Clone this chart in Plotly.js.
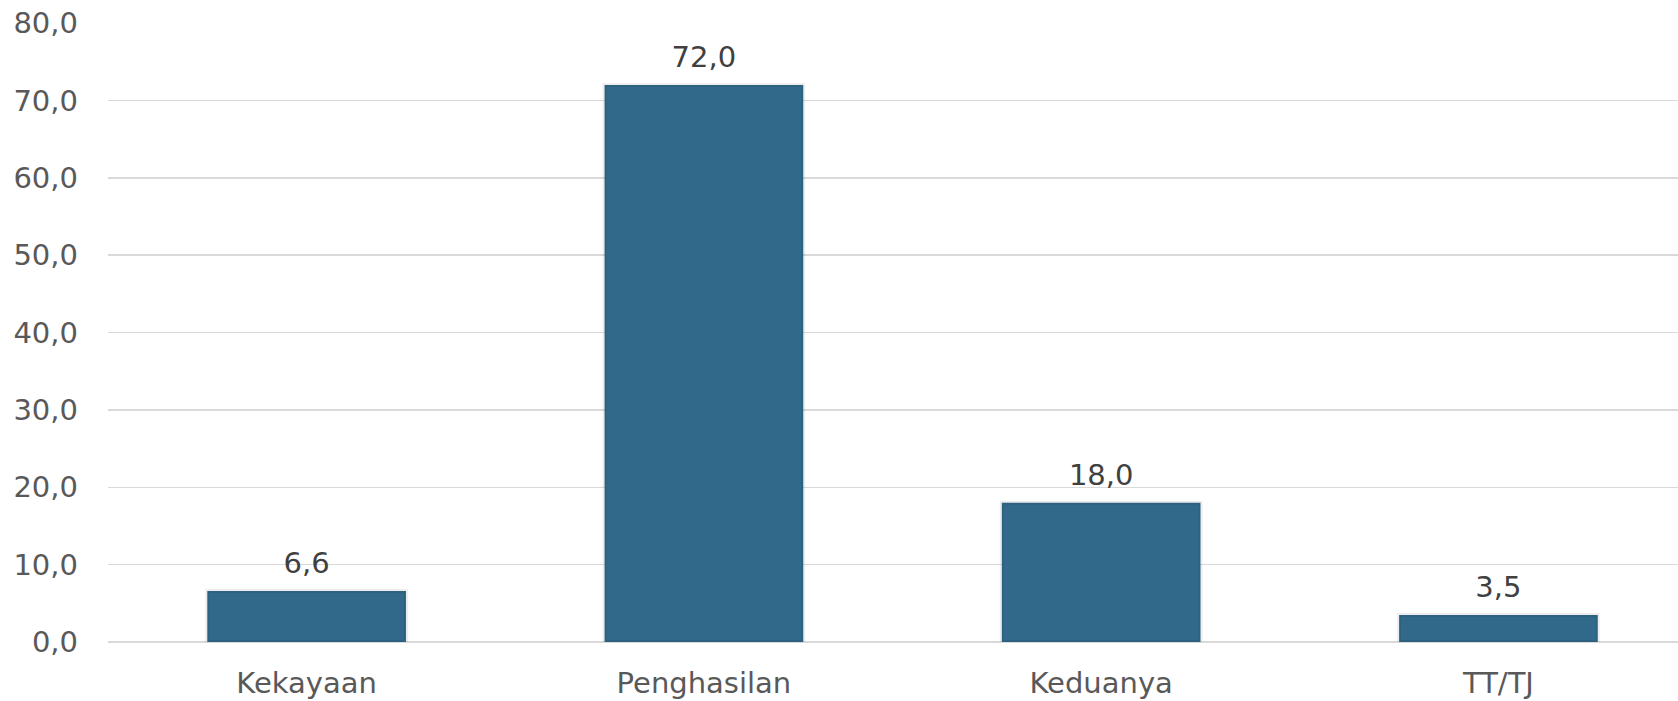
<!DOCTYPE html>
<html>
<head>
<meta charset="utf-8">
<script src="https://cdn.plot.ly/plotly-3.0.1.min.js"></script>
<style>html,body{margin:0;padding:0;background:#fff;}#chart{width:1678px;height:701px;}</style>
</head>
<body>
<div id="chart"></div>
<script>
const categories = ["Kekayaan", "Penghasilan", "Keduanya", "TT/TJ"];
const values = [6.6, 72.0, 18.0, 3.5];
const yTicks = [0, 10, 20, 30, 40, 50, 60, 70, 80];

const FONT = '"DejaVu Sans", sans-serif';

const trace = {
  type: 'bar',
  x: categories,
  y: values,
  width: 0.5,
  marker: {color: '#31698A', line: {color: 'rgba(0,0,0,0.07)', width: 4}},
  text: values.map(v => v.toFixed(1).replace('.', ',')),
  textposition: 'outside',
  cliponaxis: false,
  textfont: {family: FONT, size: 29, color: '#404040'},
  hoverinfo: 'none'
};

const layout = {
  width: 1678, height: 701,
  margin: {l: 108, r: 0, t: 23, b: 59},
  paper_bgcolor: '#ffffff', plot_bgcolor: '#ffffff',
  separators: ', ',
  showlegend: false,
  font: {family: FONT, size: 29, color: '#595959'},
  xaxis: {
    type: 'category',
    range: [-0.5, 3.452],
    showgrid: false, zeroline: false, showline: false,
    ticks: '', ticklabelstandoff: 21,
    tickfont: {family: FONT, size: 29, color: '#595959'}
  },
  yaxis: {
    range: [0, 80],
    tickvals: yTicks,
    ticktext: yTicks.map(v => v.toFixed(1).replace('.', ',')),
    showgrid: true, gridcolor: '#d9d9d9', gridwidth: 1.5,
    zeroline: true, zerolinecolor: '#d9d9d9', zerolinewidth: 1.5,
    showline: false, ticks: '', ticklabelstandoff: 29,
    tickfont: {family: FONT, size: 29, color: '#595959'}
  },
  bargap: 0.5
};

Plotly.newPlot('chart', [trace], layout, {displayModeBar: false, staticPlot: true}).then(function () {
  // push data labels a bit higher above bars, as in the reference
  document.querySelectorAll('.bartext').forEach(function (t) {
    const tr = t.getAttribute('transform') || '';
    t.setAttribute('transform', 'translate(0,-8) ' + tr);
  });
});
</script>
</body>
</html>
